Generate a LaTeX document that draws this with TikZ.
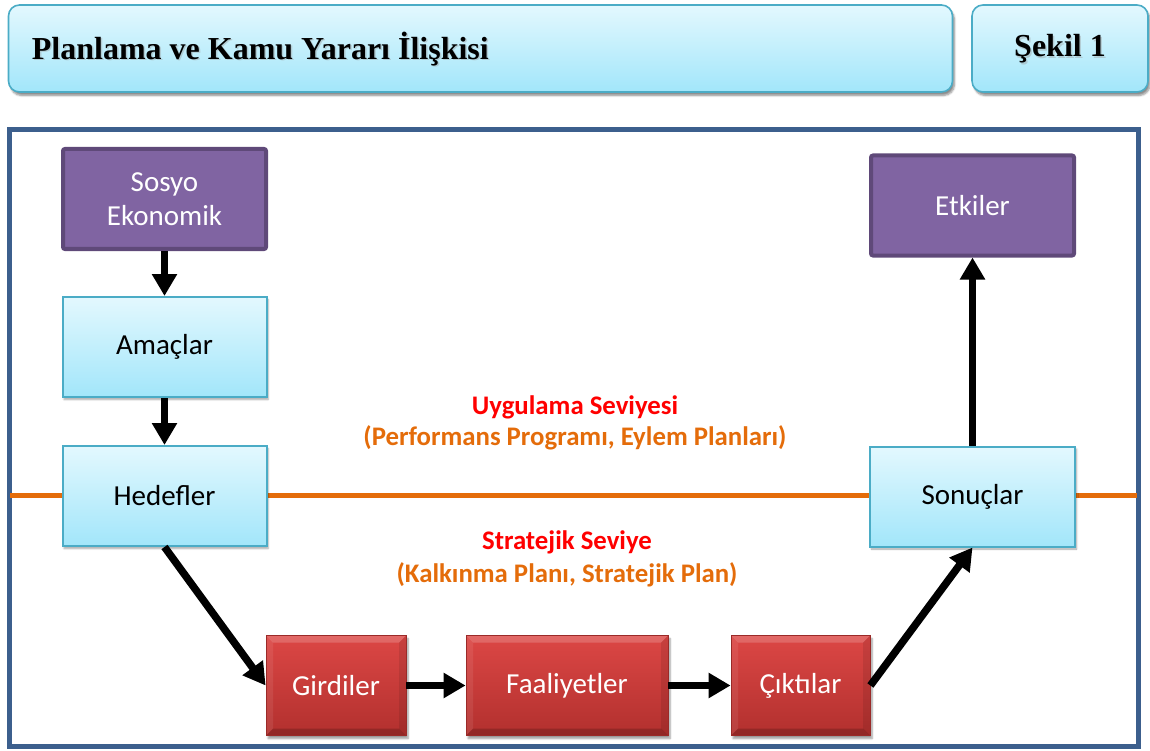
\documentclass[tikz,border=0pt]{standalone}
\usepackage{fontspec}
\setmainfont{Carlito}
\newfontfamily\headfont{Liberation Serif}
\usetikzlibrary{arrows.meta,shadows.blur}

\definecolor{skyTop}{HTML}{E3F8FE}
\definecolor{skyBot}{HTML}{A2E6FA}
\definecolor{skyEdge}{HTML}{4BACC6}
\definecolor{plum}{HTML}{8064A2}
\definecolor{plumEdge}{HTML}{5F4979}
\definecolor{brickTop}{HTML}{DC4745}
\definecolor{brickBot}{HTML}{B2302E}
\definecolor{brickEdge}{HTML}{9A2A28}
\definecolor{frameBlue}{HTML}{3C5F8D}
\definecolor{levelOrange}{HTML}{E46C0A}
\definecolor{levelRed}{HTML}{FF0000}

\tikzset{
  headbox/.style={draw=skyEdge, line width=1.6pt, rounded corners=11pt,
    top color=skyTop, bottom color=skyBot,
    blur shadow={shadow xshift=2pt, shadow yshift=-3.5pt, shadow blur steps=6, shadow opacity=45}},
  headtext/.style={inner sep=0pt, font=\headfont\bfseries\fontsize{32}{36}\selectfont},
  skybox/.style={draw=skyEdge, line width=2pt, top color=skyTop, bottom color=skyBot,
    minimum width=204pt, minimum height=100pt, inner sep=0pt,
    font=\fontsize{29}{32}\selectfont,
    blur shadow={shadow xshift=1.5pt, shadow yshift=-2.5pt, shadow blur steps=5, shadow opacity=35}},
  plumbox/.style={draw=plumEdge, line width=4pt, fill=plum, rounded corners=2pt,
    minimum width=203pt, minimum height=100pt, inner sep=0pt, text=white, align=center,
    font=\fontsize{29}{34}\selectfont},
  brickbox/.style={draw=brickEdge, line width=0.8pt, top color=brickTop, bottom color=brickBot,
    minimum height=100pt, inner sep=0pt, text=white,
    font=\fontsize{29}{32}\selectfont,
    blur shadow={shadow xshift=2pt, shadow yshift=-3pt, shadow blur steps=5, shadow opacity=40},
    path picture={
      \fill[white, opacity=0.18] (path picture bounding box.north west) -- (path picture bounding box.north east)
        -- ([shift={(-7pt,-7pt)}]path picture bounding box.north east) -- ([shift={(7pt,-7pt)}]path picture bounding box.north west) -- cycle;
      \fill[white, opacity=0.08] (path picture bounding box.north west) -- (path picture bounding box.south west)
        -- ([shift={(7pt,7pt)}]path picture bounding box.south west) -- ([shift={(7pt,-7pt)}]path picture bounding box.north west) -- cycle;
      \fill[black, opacity=0.18] (path picture bounding box.south west) -- (path picture bounding box.south east)
        -- ([shift={(-7pt,7pt)}]path picture bounding box.south east) -- ([shift={(7pt,7pt)}]path picture bounding box.south west) -- cycle;
      \fill[black, opacity=0.09] (path picture bounding box.north east) -- (path picture bounding box.south east)
        -- ([shift={(-7pt,7pt)}]path picture bounding box.south east) -- ([shift={(-7pt,-7pt)}]path picture bounding box.north east) -- cycle;
    }},
  flowarrow/.style={line width=7.5pt, -{Triangle[width=24pt,length=22pt]}},
  levelhead/.style={text=levelRed, font=\bfseries\fontsize{26.8}{30}\selectfont},
  levelsub/.style={text=levelOrange, font=\bfseries\fontsize{26.8}{30}\selectfont}
}

\begin{document}
\begin{tikzpicture}[x=1pt, y=-1pt]
\useasboundingbox (0,0) rectangle (1150,751);

% title bar and figure number
\node[headbox, minimum width=944pt, minimum height=87pt] (titlebar) at (480.5,48.5) {};
\node[headbox, minimum width=176pt, minimum height=87pt] (figno) at (1060,48.5) {};
\node[headtext, anchor=west, text=black!40, opacity=0.4] (titleshade)
  at ([xshift=25.5pt, yshift=-2pt]titlebar.west) {Planlama ve Kamu Yararı İlişkisi};
\node[headtext, anchor=west] (titletext)
  at ([xshift=24pt, yshift=-0.5pt]titlebar.west) {Planlama ve Kamu Yararı İlişkisi};
\node[headtext, text=black!40, opacity=0.4] (fignoshade) at ([xshift=1.5pt, yshift=-2pt]figno.center) {Şekil 1};
\node[headtext] (fignotext) at ([yshift=-0.5pt]figno.center) {Şekil 1};

% outer frame
\draw[frameBlue, line width=5pt] (9.5,129.5) rectangle (1138.5,746.5);

% boundary between implementation and strategic levels
\coordinate (levelL) at (10,495);
\coordinate (levelR) at (1137,495);
\draw[levelOrange, line width=5pt] (levelL) -- (levelR);

% boxes
\node[plumbox] (socio) at (164.5,199) {Sosyo\\Ekonomik};
\node[skybox] (goals) at (164.5,347) {Amaçlar};
\node[skybox] (targets) at (164.5,496) {Hedefler};
\node[brickbox, minimum width=140pt] (inputs) at (336,685.5) {Girdiler};
\node[brickbox, minimum width=202pt] (acts) at (567,685.5) {Faaliyetler};
\node[brickbox, minimum width=139pt] (outputs) at (800.5,685.5) {Çıktılar};
\node[skybox, minimum width=205pt] (results) at (972.5,496.5) {Sonuçlar};
\node[plumbox, minimum width=203pt] (impacts) at (972.5,205.5) {Etkiler};

% level labels
\node[levelhead] (implHead) at (575,407) {Uygulama Seviyesi};
\node[levelsub] (implSub) at (575,438) {(Performans Programı, Eylem Planları)};
\node[levelhead] (stratHead) at (567,542) {Stratejik Seviye};
\node[levelsub] (stratSub) at (567,575) {(Kalkınma Planı, Stratejik Plan)};

% flow
\draw[flowarrow] (socio.south) -- (goals.north);
\draw[flowarrow] (goals.south) -- (targets.north);
\draw[flowarrow] (targets.south) -- (inputs.west);
\draw[flowarrow] (inputs.east) -- (acts.west);
\draw[flowarrow] (acts.east) -- (outputs.west);
\draw[flowarrow] (outputs.east) -- (results.south);
\draw[flowarrow] (results.north) -- (impacts.south);
\end{tikzpicture}
\end{document}
